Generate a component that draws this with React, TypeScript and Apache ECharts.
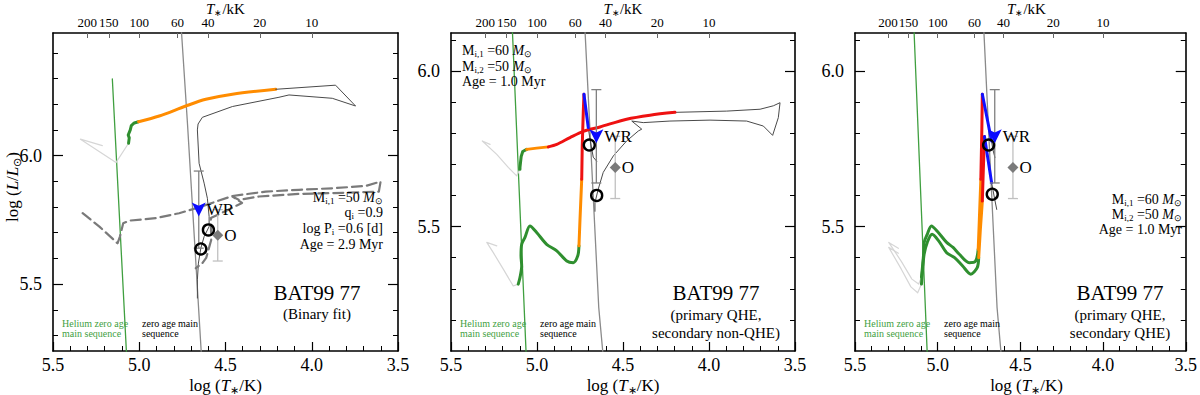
import React, { useEffect, useRef } from "react";
import * as echarts from "echarts";

const FONT = "Liberation Serif";

// ---------- axes ----------
const X_MIN = 3.5;
const X_MAX = 5.5;
const Y_RANGE_1 = [5.24, 6.477];
const Y_RANGE_23 = [5.1, 6.122];
const Y_MAJOR = [5.5, 6.0];
const Y_MINOR_1 = [5.3, 5.4, 5.6, 5.7, 5.8, 5.9, 6.1, 6.2, 6.3, 6.4];
const Y_MINOR_23 = [5.2, 5.3, 5.4, 5.6, 5.7, 5.8, 5.9, 6.1];
const TOP_KK = [200, 150, 100, 60, 40, 20, 10];

// ---------- reference lines ----------
const heZams = [[5.06, 5.05], [5.156, 6.298]];
const zams = [[4.61, 5.05], [4.618, 5.1], [4.641, 5.24], [4.72, 6.12], [4.755, 6.48], [4.763, 6.56]];

// ---------- observations (x, y, error in log L) ----------
const wrStar = [[4.655, 5.79, 0.15]];
const oStar = [[4.545, 5.69, 0.1]];

// ---------- panel 1: binary fit ----------
const p1Circles = [[4.599, 5.711], [4.643, 5.637]];
const p1PrimaryPre = [[5.214, 6.039], [5.341, 6.064], [5.135, 5.973], [5.062, 6.048]];
const p1PrimaryGreen = [[5.062, 6.048], [5.058, 6.069], [5.064, 6.08], [5.052, 6.1], [5.046, 6.117], [5.029, 6.127], [5.004, 6.132]];
const p1PrimaryOrange = [[5.004, 6.132], [4.884, 6.154], [4.73, 6.193], [4.614, 6.219], [4.46, 6.239], [4.209, 6.258]];
const p1PrimaryLate = [
  [4.209, 6.258], [3.862, 6.274], [3.746, 6.193], [3.881, 6.223], [4.132, 6.236], [4.19, 6.227],
  [4.46, 6.191], [4.634, 6.149], [4.659, 6.123], [4.663, 6.1], [4.653, 5.97], [4.624, 5.893],
  [4.605, 5.834], [4.595, 5.763], [4.595, 5.724], [4.624, 5.685], [4.643, 5.64], [4.657, 5.582],
  [4.663, 5.517], [4.663, 5.446],
];
const p1Secondary = [
  [5.328, 5.776], [5.231, 5.724], [5.126, 5.659], [5.112, 5.685], [5.093, 5.737], [5.058, 5.747],
  [4.903, 5.757], [4.769, 5.776], [4.653, 5.799], [4.46, 5.843], [4.267, 5.86], [4.074, 5.867],
  [3.881, 5.873], [3.688, 5.882], [3.601, 5.899], [3.611, 5.86], [3.785, 5.856], [4.074, 5.851],
  [4.306, 5.841], [4.421, 5.828], [4.46, 5.841], [4.404, 5.816], [4.508, 5.782], [4.585, 5.757],
  [4.583, 5.672], [4.612, 5.602], [4.634, 5.582], [4.672, 5.562],
];

// ---------- panel 2: primary QHE, secondary non-QHE ----------
const p2Circles = [[4.696, 5.762], [4.653, 5.6]];
const p2aPre = [[5.273, 5.764], [5.318, 5.775], [5.234, 5.732], [5.167, 5.69], [5.118, 5.663], [5.099, 5.684]];
const p2aGreen = [[5.099, 5.684], [5.099, 5.69], [5.092, 5.725], [5.083, 5.741], [5.06, 5.748]];
const p2aOrange = [[5.06, 5.748], [5.002, 5.752], [4.934, 5.756]];
const p2aRed = [[4.934, 5.756], [4.885, 5.764], [4.808, 5.786], [4.731, 5.806], [4.634, 5.82], [4.479, 5.845], [4.343, 5.858], [4.198, 5.867]];
const p2aLate = [
  [4.198, 5.867], [3.897, 5.871], [3.703, 5.877], [3.626, 5.888], [3.587, 5.898], [3.597, 5.85],
  [3.63, 5.793], [3.684, 5.823], [3.781, 5.839], [3.994, 5.842], [4.227, 5.839], [4.382, 5.834],
  [4.449, 5.839], [4.391, 5.813], [4.411, 5.807], [4.479, 5.775], [4.556, 5.727], [4.615, 5.674],
  [4.644, 5.62], [4.663, 5.577], [4.663, 5.549],
];
const p2bPre = [[5.234, 5.438], [5.292, 5.449], [5.254, 5.416], [5.196, 5.363], [5.138, 5.309], [5.109, 5.315]];
const p2bGreen = [
  [5.109, 5.315], [5.099, 5.336], [5.089, 5.373], [5.093, 5.406], [5.089, 5.443], [5.07, 5.465],
  [5.041, 5.502], [5.002, 5.481], [4.944, 5.443], [4.885, 5.422], [4.827, 5.389], [4.789, 5.384],
  [4.763, 5.406], [4.756, 5.438],
];
const p2bOrange = [[4.756, 5.438], [4.75, 5.523], [4.74, 5.652]];
const p2bRed = [[4.74, 5.652], [4.737, 5.759], [4.731, 5.866], [4.727, 5.925]];
const p2bBlue = [[4.727, 5.925], [4.702, 5.818]];
const p2bLate = [[4.702, 5.818], [4.692, 5.781], [4.673, 5.723], [4.653, 5.71]];

// ---------- panel 3: primary QHE, secondary QHE ----------
const p3Circles = [[4.692, 5.762], [4.67, 5.604]];
const p3aPre = [[5.238, 5.43], [5.296, 5.449], [5.22, 5.388], [5.156, 5.331], [5.115, 5.315], [5.098, 5.337]];
const p3aGreen = [
  [5.098, 5.337], [5.086, 5.406], [5.082, 5.449], [5.063, 5.475], [5.038, 5.502], [5.004, 5.486],
  [4.946, 5.449], [4.907, 5.433], [4.869, 5.411], [4.81, 5.384], [4.771, 5.389], [4.755, 5.427],
];
const p3aOrange = [[4.755, 5.427], [4.748, 5.523], [4.739, 5.652]];
const p3aRed = [[4.739, 5.652], [4.733, 5.812], [4.73, 5.925]];
const p3aBlue = [[4.73, 5.925], [4.674, 5.775]];
const p3aLate = [[4.674, 5.775], [4.667, 5.749], [4.654, 5.722]];
const p3bPre = [[5.238, 5.414], [5.296, 5.433], [5.22, 5.363], [5.162, 5.306], [5.121, 5.287], [5.098, 5.315]];
const p3bGreen = [
  [5.098, 5.315], [5.092, 5.357], [5.082, 5.411], [5.063, 5.449], [5.034, 5.475], [4.994, 5.454],
  [4.946, 5.416], [4.898, 5.4], [4.849, 5.373], [4.8, 5.347], [4.761, 5.368], [4.752, 5.4],
];
const p3bOrange = [[4.752, 5.4], [4.742, 5.491], [4.73, 5.582]];
const p3bRed = [[4.73, 5.582], [4.724, 5.684], [4.717, 5.789]];
const p3bBlue = [[4.717, 5.789], [4.674, 5.641]];
const p3bLate = [[4.674, 5.641], [4.655, 5.587], [4.643, 5.555]];

// ---------- layout & styles ----------
const GRIDS = [
  { left: 53, top: 33, width: 345, height: 318 },
  { left: 451, top: 33, width: 344, height: 318 },
  { left: 855, top: 33, width: 343, height: 318 },
];
const C_GREEN = "#2f8f2f";
const C_HEZAMS = "#3f9f3f";
const C_ORANGE = "#ff8c00";
const C_RED = "#ee1111";
const C_BLUE = "#1111ff";
const C_PRE = "#d6d6d6";
const C_LATE = "#4a4a4a";
const C_ZAMS = "#8a8a8a";

const rich = (size: number) => ({
  n: { fontFamily: FONT, fontSize: size },
  it: { fontFamily: FONT, fontSize: size, fontStyle: "italic" },
  sub: { fontFamily: FONT, fontSize: Math.round(size * 0.62), verticalAlign: "bottom", padding: [Math.round(size * 0.5), 0, 0, 0] },
});

export default function App() {
  const ref = useRef<HTMLDivElement>(null);
  useEffect(() => {
    if (!ref.current) return;
    const chart = echarts.init(ref.current, null, { renderer: "svg" });
    const topLogT = TOP_KK.map((k) => Math.log10(k * 1000));
    const axisLine = { show: true, onZero: false, lineStyle: { color: "#000", width: 1.6 } };
    const xAxes: any[] = [];
    const yAxes: any[] = [];
    GRIDS.forEach((g, i) => {
      xAxes.push({
        gridIndex: i, type: "value", position: "bottom", min: X_MIN, max: X_MAX, inverse: true, interval: 0.5,
        axisLine,
        axisTick: { show: true, inside: true, length: 9, lineStyle: { color: "#000", width: 1.2 } },
        minorTick: { show: true, splitNumber: 5, length: 5, lineStyle: { color: "#000", width: 1 } },
        axisLabel: { fontFamily: FONT, fontSize: 18, color: "#000", margin: 5, formatter: (v: number) => v.toFixed(1) },
        splitLine: { show: false },
      });
      xAxes.push({
        gridIndex: i, type: "value", position: "top", min: X_MIN, max: X_MAX, inverse: true,
        axisLine,
        axisTick: { show: true, inside: true, length: 5, customValues: topLogT, lineStyle: { color: "#666", width: 1 } },
        axisLabel: {
          show: true, customValues: topLogT, fontFamily: FONT, fontSize: 13, color: "#000", margin: 4,
          showMinLabel: true, showMaxLabel: true, hideOverlap: false,
          formatter: (v: number) => {
            const k = topLogT.findIndex((t) => Math.abs(t - v) < 1e-6);
            return k >= 0 ? String(TOP_KK[k]) : "";
          },
        },
        splitLine: { show: false },
      });
      const yr = i === 0 ? Y_RANGE_1 : Y_RANGE_23;
      const minor = i === 0 ? Y_MINOR_1 : Y_MINOR_23;
      const base = { gridIndex: i, type: "value", min: yr[0], max: yr[1], splitLine: { show: false } };
      yAxes.push({
        ...base, position: "left", axisLine,
        axisTick: { show: true, inside: true, length: 10, customValues: Y_MAJOR, lineStyle: { color: "#000", width: 1.2 } },
        axisLabel: { customValues: Y_MAJOR, fontFamily: FONT, fontSize: 18, color: "#000", margin: 11, formatter: (v: number) => v.toFixed(1) },
      });
      yAxes.push({
        ...base, position: "left", axisLine: { show: false },
        axisTick: { show: true, inside: true, length: 5, customValues: minor, lineStyle: { color: "#000", width: 1 } },
        axisLabel: { show: false },
      });
      yAxes.push({
        ...base, position: "right", axisLine,
        axisTick: { show: true, inside: true, length: 10, customValues: Y_MAJOR, lineStyle: { color: "#000", width: 1.2 } },
        axisLabel: { show: false },
      });
      yAxes.push({
        ...base, position: "right", axisLine: { show: false },
        axisTick: { show: true, inside: true, length: 5, customValues: minor, lineStyle: { color: "#000", width: 1 } },
        axisLabel: { show: false },
      });
    });

    const line = (gi: number, data: number[][], color: string, width: number, opts: any = {}) => ({
      type: "line", xAxisIndex: gi * 2, yAxisIndex: gi * 4, data, symbol: "none", silent: true,
      smooth: opts.smooth ?? 0, z: opts.z ?? 2, animation: false,
      lineStyle: { color, width, type: opts.dash ?? "solid", cap: "round", join: "round" },
    });
    const errBar = (gi: number, data: number[][], color: string) => ({
      type: "custom", xAxisIndex: gi * 2, yAxisIndex: gi * 4, data, silent: true, z: 3,
      renderItem: (_p: any, api: any) => {
        const x = api.value(0), y = api.value(1), e = api.value(2);
        const t = api.coord([x, y + e]);
        const b = api.coord([x, y - e]);
        const w = 5;
        const st = { stroke: color, lineWidth: 1.3 };
        return {
          type: "group",
          children: [
            { type: "line", shape: { x1: t[0], y1: t[1], x2: b[0], y2: b[1] }, style: st },
            { type: "line", shape: { x1: t[0] - w, y1: t[1], x2: t[0] + w, y2: t[1] }, style: st },
            { type: "line", shape: { x1: b[0] - w, y1: b[1], x2: b[0] + w, y2: b[1] }, style: st },
          ],
        };
      },
    });
    const markers = (gi: number, circles: number[][]) => [
      errBar(gi, wrStar, "#808080"),
      errBar(gi, oStar, "#c0c0c0"),
      {
        type: "scatter", xAxisIndex: gi * 2, yAxisIndex: gi * 4, data: circles, silent: true, z: 6,
        symbol: "circle", symbolSize: 11,
        itemStyle: { color: "rgba(0,0,0,0)", borderColor: "#000", borderWidth: 2.4, opacity: 1 },
      },
      {
        type: "scatter", xAxisIndex: gi * 2, yAxisIndex: gi * 4, data: wrStar.map((d) => [d[0], d[1]]), silent: true, z: 7,
        symbol: "path://M0,0 L5,2.5 L10,0 L5,11 Z", symbolSize: [14, 14], itemStyle: { color: "#0a0aff", opacity: 1 },
        label: { show: true, position: "right", distance: 1, formatter: "WR", fontFamily: FONT, fontSize: 17, color: "#000" },
      },
      {
        type: "scatter", xAxisIndex: gi * 2, yAxisIndex: gi * 4, data: oStar.map((d) => [d[0], d[1]]), silent: true, z: 7,
        symbol: "diamond", symbolSize: 11, itemStyle: { color: "#7a7a7a", opacity: 1 },
        label: { show: true, position: "right", distance: 1, formatter: "O", fontFamily: FONT, fontSize: 17, color: "#000" },
      },
    ];
    const refLines = (gi: number) => [
      line(gi, heZams, C_HEZAMS, 1.3, { z: 1 }),
      line(gi, zams, C_ZAMS, 1.3, { z: 1 }),
    ];

    const series: any[] = [
      ...refLines(0),
      line(0, p1PrimaryPre, C_PRE, 1.2),
      line(0, p1PrimaryGreen, C_GREEN, 3),
      line(0, p1PrimaryOrange, C_ORANGE, 3, { smooth: 0.3 }),
      line(0, p1PrimaryLate, C_LATE, 1),
      line(0, p1Secondary, "#7a7a7a", 2.2, { dash: [10, 5] }),
      ...markers(0, p1Circles),

      ...refLines(1),
      line(1, p2aPre, C_PRE, 1.2),
      line(1, p2bPre, C_PRE, 1.2),
      line(1, p2aLate, C_LATE, 1),
      line(1, p2bLate, C_LATE, 1),
      line(1, p2aGreen, C_GREEN, 3),
      line(1, p2bGreen, C_GREEN, 3, { smooth: 0.3 }),
      line(1, p2aOrange, C_ORANGE, 3),
      line(1, p2bOrange, C_ORANGE, 3),
      line(1, p2bRed, C_RED, 3),
      line(1, p2aRed, C_RED, 3, { smooth: 0.3 }),
      line(1, p2bBlue, C_BLUE, 3),
      ...markers(1, p2Circles),

      ...refLines(2),
      line(2, p3aPre, C_PRE, 1.2),
      line(2, p3bPre, C_PRE, 1.2),
      line(2, p3aLate, C_LATE, 1),
      line(2, p3bLate, C_LATE, 1),
      line(2, p3aGreen, C_GREEN, 3, { smooth: 0.3 }),
      line(2, p3bGreen, C_GREEN, 3, { smooth: 0.3 }),
      line(2, p3aOrange, C_ORANGE, 3),
      line(2, p3bOrange, C_ORANGE, 3),
      line(2, p3aRed, C_RED, 3),
      line(2, p3bRed, C_RED, 3),
      line(2, p3aBlue, C_BLUE, 3),
      line(2, p3bBlue, C_BLUE, 3),
      ...markers(2, p3Circles),
    ];

    const txt = (x: number, y: number, text: string, size: number, align = "left", extra: any = {}) => ({
      type: "text", x, y, silent: true, z: 10, ...extra,
      style: {
        text, fill: extra.fill ?? "#000", textAlign: align, textVerticalAlign: "middle",
        font: `${size}px ${FONT}`, fontFamily: FONT, fontSize: size, rich: rich(size),
      },
    });
    const centers = GRIDS.map((g) => g.left + g.width / 2);
    const graphics: any[] = [];
    centers.forEach((c, i) => {
      graphics.push(txt(c, 9, "{it|T}{sub|∗}{n|/kK}", 15, "center"));
      graphics.push(txt(c, 385, "{n|log (}{it|T}{sub|∗}{n|/K)}", 17, "center"));
      const g = GRIDS[i];
      graphics.push(txt(g.left + 9, 323, "{n|Helium zero age}", 10, "left", { fill: C_HEZAMS }));
      graphics.push(txt(g.left + 9, 333, "{n|main sequence}", 10, "left", { fill: C_HEZAMS }));
      graphics.push(txt(g.left + 89, 323, "{n|zero age main}", 10, "left"));
      graphics.push(txt(g.left + 89, 333, "{n|sequence}", 10, "left"));
    });
    graphics.push(txt(12, 187, "{n|log (}{it|L}{n|/}{it|L}{sub|⊙}{n|)}", 17, "center", { rotation: Math.PI / 2 }));
    // panel 1 annotations
    graphics.push(txt(383, 197, "{n|M}{sub|i,1}{n| =50 }{it|M}{sub|⊙}", 14, "right"));
    graphics.push(txt(383, 212, "{n|q}{sub|i}{n| =0.9}", 14, "right"));
    graphics.push(txt(383, 228, "{n|log P}{sub|i}{n| =0.6 [d]}", 14, "right"));
    graphics.push(txt(383, 244, "{n|Age = 2.9 Myr}", 14, "right"));
    graphics.push(txt(317, 293, "{n|BAT99 77}", 21, "center"));
    graphics.push(txt(317, 314, "{n|(Binary fit)}", 15, "center"));
    // panel 2 annotations
    graphics.push(txt(462, 50, "{n|M}{sub|i,1}{n| =60 }{it|M}{sub|⊙}", 14, "left"));
    graphics.push(txt(462, 66, "{n|M}{sub|i,2}{n| =50 }{it|M}{sub|⊙}", 14, "left"));
    graphics.push(txt(462, 81, "{n|Age = 1.0 Myr}", 14, "left"));
    graphics.push(txt(716, 293, "{n|BAT99 77}", 21, "center"));
    graphics.push(txt(716, 315, "{n|(primary QHE,}", 15, "center"));
    graphics.push(txt(716, 333, "{n|secondary non-QHE)}", 15, "center"));
    // panel 3 annotations
    graphics.push(txt(1182, 199, "{n|M}{sub|i,1}{n| =60 }{it|M}{sub|⊙}", 14, "right"));
    graphics.push(txt(1182, 214, "{n|M}{sub|i,2}{n| =50 }{it|M}{sub|⊙}", 14, "right"));
    graphics.push(txt(1182, 229, "{n|Age = 1.0 Myr}", 14, "right"));
    graphics.push(txt(1120, 293, "{n|BAT99 77}", 21, "center"));
    graphics.push(txt(1120, 315, "{n|(primary QHE,}", 15, "center"));
    graphics.push(txt(1120, 333, "{n|secondary QHE)}", 15, "center"));

    chart.setOption({
      animation: false,
      backgroundColor: "#fff",
      textStyle: { fontFamily: FONT },
      grid: GRIDS.map((g) => ({ ...g, containLabel: false })),
      xAxis: xAxes,
      yAxis: yAxes,
      series,
      graphic: graphics,
    });
    return () => chart.dispose();
  }, []);
  return <div ref={ref} style={{ position: "absolute", left: 0, top: 0, width: 1200, height: 395 }} />;
}
